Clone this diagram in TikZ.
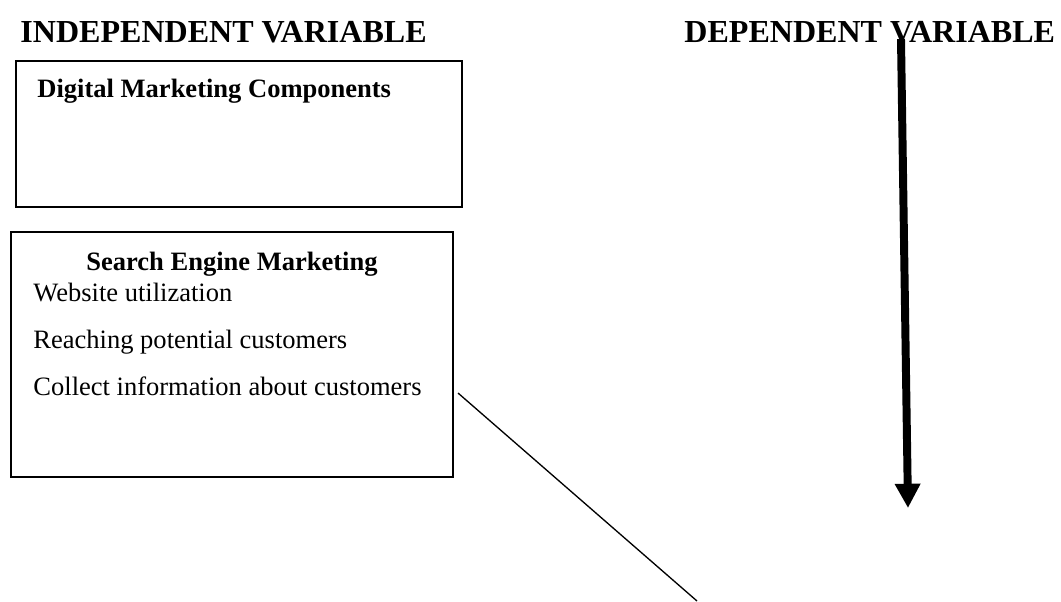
\documentclass[tikz,border=0pt]{standalone}
\usepackage{fontspec}
\setmainfont{Liberation Serif}
\usepackage{tikz}
\usetikzlibrary{arrows.meta, positioning, calc}
\tikzset{
  heading/.style={inner sep=0pt, anchor=base west, font=\fontsize{14.5}{17}\selectfont\bfseries},
  box/.style={draw, rectangle, line width=0.9pt, inner sep=0pt},
  title/.style={inner sep=0pt, font=\fontsize{12}{14}\selectfont\bfseries},
  item/.style={inner sep=0pt, anchor=base west, font=\fontsize{12}{14}\selectfont},
  link/.style={line width=0.6pt},
  effect/.style={-{Triangle[length=11pt, width=11pt]}, line width=3.6pt},
}

\begin{document}
\begin{tikzpicture}[x=0.4525pt, y=-0.4525pt]
  \useasboundingbox (0,0) rectangle (1061,601);

  % column headings
  \node[heading] (indep) at (20,42) {INDEPENDENT VARIABLE};
  \node[heading] (dep) at (684,42) {DEPENDENT VARIABLE};

  % digital marketing box
  \node[box, minimum width=201.8pt, minimum height=66.1pt] (dmc) at (239,134) {};
  \node[title, anchor=base west] (dmctitle) at (37,97) {Digital Marketing Components};

  % search engine marketing box
  \node[box, minimum width=200pt, minimum height=110.9pt] (sem) at (232,354.5) {};
  \node[title, anchor=base] (semtitle) at (232,270) {Search Engine Marketing};
  \node[item] (web) at (33,301) {Website utilization};
  \node[item] (reach) at (33,348) {Reaching potential customers};
  \node[item] (collect) at (33,395) {Collect information about customers};

  % connectors
  \coordinate (semlink) at (458,393);
  \coordinate (cutoff) at (697,601);
  \draw[link] (semlink) -- (cutoff);

  \coordinate (vtop) at (901,39);
  \coordinate (vtip) at (908,508);
  \draw[effect] (vtop) -- (vtip);
\end{tikzpicture}
\end{document}
